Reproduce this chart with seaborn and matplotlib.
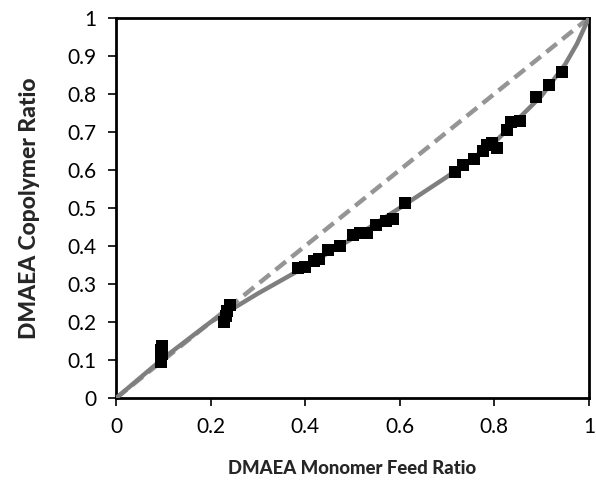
import matplotlib
matplotlib.use("Agg")
import matplotlib.pyplot as plt
import seaborn as sns
import pandas as pd

# Experimental data (feed ratio vs copolymer ratio)
feed = [0.095, 0.095, 0.097, 0.095, 0.097,
        0.228, 0.232, 0.235, 0.240,
        0.385, 0.400, 0.418, 0.428, 0.449, 0.473,
        0.500, 0.515, 0.530, 0.550, 0.570, 0.585, 0.610,
        0.717, 0.734, 0.757, 0.775, 0.785, 0.795, 0.805,
        0.826, 0.835, 0.855, 0.888, 0.916, 0.943]
copoly = [0.095, 0.105, 0.115, 0.125, 0.138,
          0.200, 0.215, 0.230, 0.245,
          0.342, 0.345, 0.360, 0.366, 0.389, 0.400,
          0.428, 0.434, 0.433, 0.455, 0.465, 0.470, 0.512,
          0.595, 0.613, 0.629, 0.650, 0.665, 0.672, 0.658,
          0.705, 0.725, 0.728, 0.792, 0.824, 0.858]

# Fitted copolymerization curve
fit_x = [0.0, 0.1, 0.2, 0.3, 0.4, 0.5, 0.6, 0.7, 0.8, 0.9, 0.95, 0.975, 1.0]
fit_y = [0.0, 0.105, 0.200, 0.275, 0.345, 0.420, 0.500, 0.582, 0.672, 0.795, 0.878, 0.932, 1.0]

# Ideal (azeotropic) line
ideal_x = [0.0, 1.0]
ideal_y = [0.0, 1.0]

x_ticks = [0, 0.2, 0.4, 0.6, 0.8, 1]
x_labels = ["0", "0.2", "0.4", "0.6", "0.8", "1"]
y_ticks = [0, 0.1, 0.2, 0.3, 0.4, 0.5, 0.6, 0.7, 0.8, 0.9, 1]
y_labels = ["0", "0.1", "0.2", "0.3", "0.4", "0.5", "0.6", "0.7", "0.8", "0.9", "1"]

sns.set_style("ticks")
plt.rcParams['font.family'] = ['Lato', 'DejaVu Sans']

fig = plt.figure(figsize=(5.96, 4.83), dpi=100)
ax = fig.add_axes([0.195, 0.176, 0.793, 0.787])

df_pts = pd.DataFrame({"feed": feed, "copoly": copoly})
df_fit = pd.DataFrame({"x": fit_x, "y": fit_y})
df_ideal = pd.DataFrame({"x": ideal_x, "y": ideal_y})

sns.lineplot(data=df_ideal, x="x", y="y", ax=ax, color="#959595",
             linewidth=3.2, linestyle=(0, (3, 1.6)), zorder=2)
sns.lineplot(data=df_fit, x="x", y="y", ax=ax, color="#7f7f7f",
             linewidth=3.2, zorder=3)
sns.scatterplot(data=df_pts, x="feed", y="copoly", ax=ax, marker="s",
                s=72, color="black", edgecolor="black", linewidth=0, zorder=4)

ax.set_xlim(0, 1)
ax.set_ylim(0, 1)
ax.set_xticks(x_ticks)
ax.set_xticklabels(x_labels)
ax.set_yticks(y_ticks)
ax.set_yticklabels(y_labels)
ax.tick_params(direction="out", length=6, width=1.2, labelsize=15, pad=8, colors="black")
for s in ax.spines.values():
    s.set_visible(True)
    s.set_linewidth(2)
    s.set_color("black")
ax.set_xlabel("DMAEA Monomer Feed Ratio", fontsize=13.3, fontweight="black", labelpad=16)
ax.set_ylabel("DMAEA Copolymer Ratio", fontsize=16.5, fontweight="black", labelpad=20)

fig.savefig("out.png", dpi=100)
